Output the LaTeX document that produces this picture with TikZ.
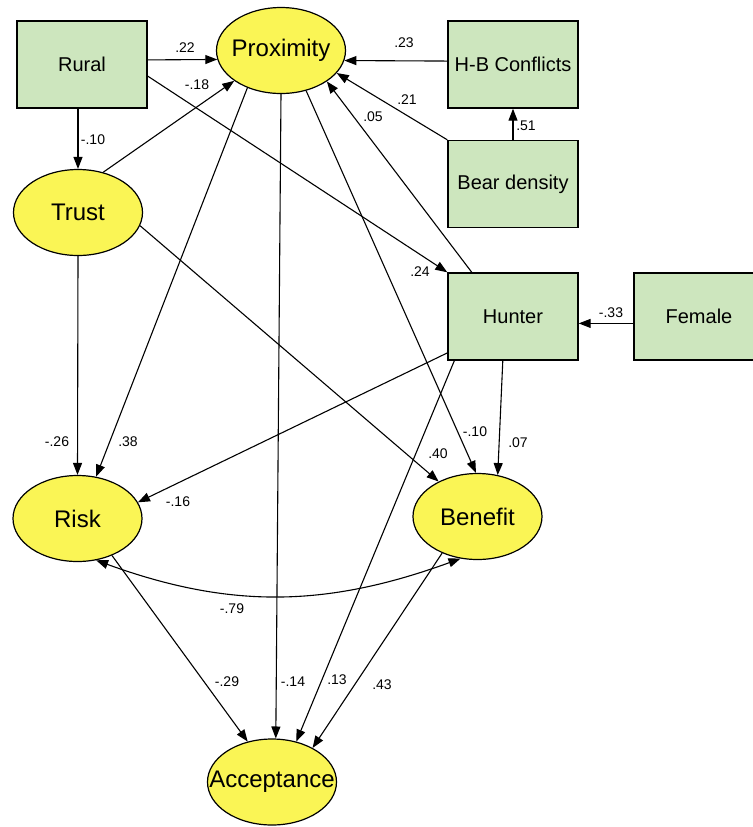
\documentclass[tikz,border=0pt]{standalone}
\usepackage{fontspec}
\setmainfont{Liberation Sans}
\usepackage{xcolor}
\usepackage{tikz}
\usetikzlibrary{
    arrows.meta,
    shapes.geometric
}
\definecolor{boxGreen}{RGB}{205, 230, 190}
\definecolor{ovalYellow}{RGB}{250, 245, 85}

\begin{document}
\begin{tikzpicture}[x=5pt, y=5pt, >={Triangle[length=6pt, width=4.5pt]},
        observed/.style={rectangle, draw, line width=0.7pt, fill=boxGreen, minimum width=65pt, minimum height=43.5pt, inner sep=0pt, font=\fontsize{10}{12}\selectfont},
        latent/.style={ellipse, draw, line width=0.6pt, fill=ovalYellow, minimum width=64.5pt, minimum height=43pt, inner xsep=-12pt, inner ysep=0pt, font=\fontsize{12}{14}\selectfont},
        effect/.style={->, line width=0.55pt},
        coef/.style={inner sep=0pt, font=\fontsize{7}{8}\selectfont}]
        \clip (0,0) rectangle (75.3,-82.7);

        \node[observed] (Rural) at (8.2,-6.45) {Rural};
        \node[latent] (Prox) at (28.1,-5.05) {Proximity};
        \node[observed] (HB) at (51.3,-6.45) {H-B Conflicts};
        \node[observed] (Bear) at (51.3,-18.4) {Bear density};
        \node[latent] (Trust) at (7.8,-21.25) {Trust};
        \node[observed] (Hunter) at (51.3,-31.65) {Hunter};
        \node[observed] (Female) at (69.9,-31.65) {Female};
        \node[latent] (Risk) at (7.75,-51.85) {Risk};
        \node[latent] (Benefit) at (47.75,-51.65) {Benefit};
        \node[latent] (Acc) at (27.2,-78.2) {Acceptance};

        \draw[effect] (Rural.4) -- (Prox.188);
        \draw[effect] (Rural.south -| Trust.north) -- (Trust.north);
        \draw[effect] (Rural.-10) -- (Hunter.north west);
        \draw[effect] (Trust.58) -- (Prox.-147);
        \draw[effect] (HB.177) -- (Prox.-9);
        \draw[effect] (Bear.north west) -- (Prox.-22);
        \draw[effect] (Bear.north) -- (HB.south);
        \draw[effect] (Hunter.133) -- (Prox.-34);
        \draw[effect] (Female.186) -- (Hunter.-6);
        \draw[effect] (Trust.south) -- (Risk.north);
        \draw[effect] (Prox.-132) -- (Risk.66);
        \draw[effect] (Prox.south) -- (Acc.85);
        \draw[effect] (Prox.-58) -- (Benefit.92);
        \draw[effect] (Trust.-12) -- (Benefit.138);
        \draw[effect] (Hunter.-151) -- (Risk.15);
        \draw[effect] (Hunter.-103) -- (Benefit.64);
        \draw[effect] (Hunter.-143) -- (Acc.59);
        \draw[effect] (Benefit.-134) -- (Acc.40);
        \draw[effect] (Risk.-47) -- (Acc.121);
        \draw[<->, line width=0.55pt] (Risk.-66) to[out=-20, in=-160] (Benefit.-112);

        \node[coef] (cRuralProx) at (18.5,-4.8) {.22};
        \node[coef] (cTrustProx) at (19.7,-8.5) {-.18};
        \node[coef] (cRuralTrust) at (9.3,-14.0) {-.10};
        \node[coef] (cHBProx) at (40.4,-4.3) {.23};
        \node[coef] (cBearProx) at (40.7,-10.0) {.21};
        \node[coef] (cHunterProx) at (37.3,-11.7) {.05};
        \node[coef] (cBearHB) at (52.6,-12.6) {.51};
        \node[coef] (cRuralHunter) at (42.0,-27.2) {.24};
        \node[coef] (cFemaleHunter) at (61.1,-31.3) {-.33};
        \node[coef] (cTrustRisk) at (5.7,-44.2) {-.26};
        \node[coef] (cProxRisk) at (12.8,-44.2) {.38};
        \node[coef] (cHunterRisk) at (17.8,-50.2) {-.16};
        \node[coef] (cProxBenefit) at (47.5,-43.2) {-.10};
        \node[coef] (cHunterBenefit) at (51.8,-44.3) {.07};
        \node[coef] (cTrustBenefit) at (43.8,-45.4) {.40};
        \node[coef] (cRiskBenefit) at (23.2,-60.9) {-.79};
        \node[coef] (cRiskAcc) at (22.7,-68.2) {-.29};
        \node[coef] (cProxAcc) at (29.3,-68.2) {-.14};
        \node[coef] (cHunterAcc) at (33.7,-68.0) {.13};
        \node[coef] (cBenefitAcc) at (38.2,-68.5) {.43};
    \end{tikzpicture}
\end{document}
